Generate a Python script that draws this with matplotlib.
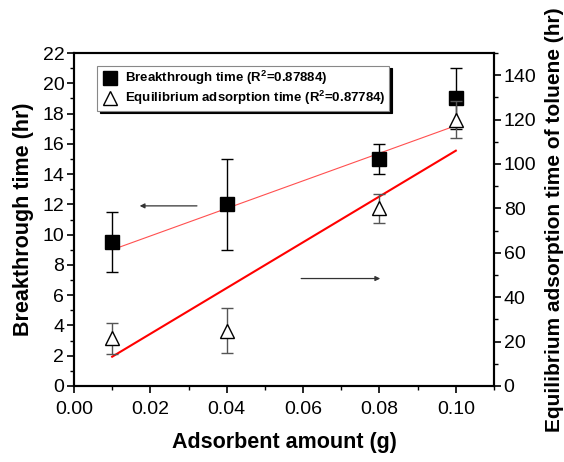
import matplotlib
matplotlib.use("Agg")
import matplotlib.pyplot as plt
from matplotlib.ticker import MultipleLocator, FormatStrFormatter
from matplotlib.lines import Line2D

plt.rcParams['font.family'] = ['Liberation Sans', 'DejaVu Sans']
plt.rcParams['mathtext.fontset'] = 'custom'
plt.rcParams['mathtext.rm'] = 'Liberation Sans:bold'
plt.rcParams['mathtext.it'] = 'Liberation Sans:bold'
plt.rcParams['mathtext.bf'] = 'Liberation Sans:bold'

# ---- data ----
adsorbent = [0.01, 0.04, 0.08, 0.10]
breakthrough = [9.5, 12.0, 15.0, 19.0]
breakthrough_err = [2.0, 3.0, 1.0, 2.0]
equilibrium = [21.5, 25.0, 80.0, 120.0]
equilibrium_err = [7.0, 10.0, 6.5, 8.5]
bt_fit_x = [0.01, 0.10]
bt_fit_y = [9.0, 17.2]
eq_fit_x = [0.01, 0.10]
eq_fit_y = [13.2, 106.0]
bt_label = r'Breakthrough time (R$^{2}$=0.87884)'
eq_label = r'Equilibrium adsorption time (R$^{2}$=0.87784)'

fig = plt.figure(figsize=(5.64, 4.62), dpi=100)
ax = fig.add_axes([74/564, 1-386/462, 420/564, 333/462])
ax2 = ax.twinx()

# left axis: breakthrough
ax.plot(bt_fit_x, bt_fit_y, color='#ff5050', lw=0.8, zorder=2)
ax.errorbar(adsorbent, breakthrough, yerr=breakthrough_err, fmt='s', color='black',
            ms=10.5, mfc='black', mec='black', ecolor='black', elinewidth=1.0,
            capsize=4.5, capthick=1.0, zorder=3)
ax.annotate('', xy=(0.0172, 11.9), xytext=(0.0322, 11.9),
            arrowprops=dict(arrowstyle='-|>', color='#333333', lw=0.9,
                            mutation_scale=7, shrinkA=0, shrinkB=0))
ax.annotate('', xy=(0.0802, 7.1), xytext=(0.0595, 7.1),
            arrowprops=dict(arrowstyle='-|>', color='#333333', lw=0.9,
                            mutation_scale=7, shrinkA=0, shrinkB=0))

ax.set_xlim(0, 0.11)
ax.set_ylim(0, 22)
ax2.set_ylim(0, 150)

# right axis: equilibrium
ax2.plot(eq_fit_x, eq_fit_y, color='#ff0000', lw=1.5, zorder=2)
ax2.errorbar(adsorbent, equilibrium, yerr=equilibrium_err, fmt='^', color='black',
             ms=10.5, mfc='white', mec='black', mew=1.0, ecolor='#555555',
             elinewidth=1.0, capsize=4.5, capthick=1.0, zorder=3)

# ticks
ax.xaxis.set_major_locator(MultipleLocator(0.02))
ax.xaxis.set_minor_locator(MultipleLocator(0.01))
ax.xaxis.set_major_formatter(FormatStrFormatter('%.2f'))
ax.yaxis.set_major_locator(MultipleLocator(2))
ax.yaxis.set_minor_locator(MultipleLocator(1))
ax2.yaxis.set_major_locator(MultipleLocator(20))
ax2.yaxis.set_minor_locator(MultipleLocator(10))
for a in (ax, ax2):
    a.tick_params(which='major', direction='out', length=5, width=1.2,
                  labelsize=14, pad=2)
    a.tick_params(which='minor', direction='out', length=3, width=1.0)
    for s in a.spines.values():
        s.set_linewidth(1.5)
ax.tick_params(axis='x', pad=6)

ax.set_xlabel('Adsorbent amount (g)', fontsize=15.5, fontweight='bold', labelpad=10)
ax.set_ylabel('Breakthrough time (hr)', fontsize=15.5, fontweight='bold', labelpad=6)
ax2.set_ylabel('Equilibrium adsorption time of toluene (hr)', fontsize=15,
               fontweight='bold', labelpad=6)

handles = [Line2D([], [], marker='s', ls='none', color='black', ms=10),
           Line2D([], [], marker='^', ls='none', mfc='white', mec='black', ms=10)]
leg = ax2.legend(handles, [bt_label, eq_label], loc='upper left',
                 bbox_to_anchor=(0.055, 0.962), borderaxespad=0,
                 prop={'weight': 'bold', 'size': 9.5}, fancybox=False,
                 edgecolor='#888888', framealpha=1, handletextpad=0.5,
                 handlelength=1.4, borderpad=0.25, labelspacing=0.15,
                 shadow={'color': 'black', 'alpha': 1})
leg.get_frame().set_linewidth(0.8)
leg.set_zorder(10)

fig.savefig('out.png', dpi=100)
